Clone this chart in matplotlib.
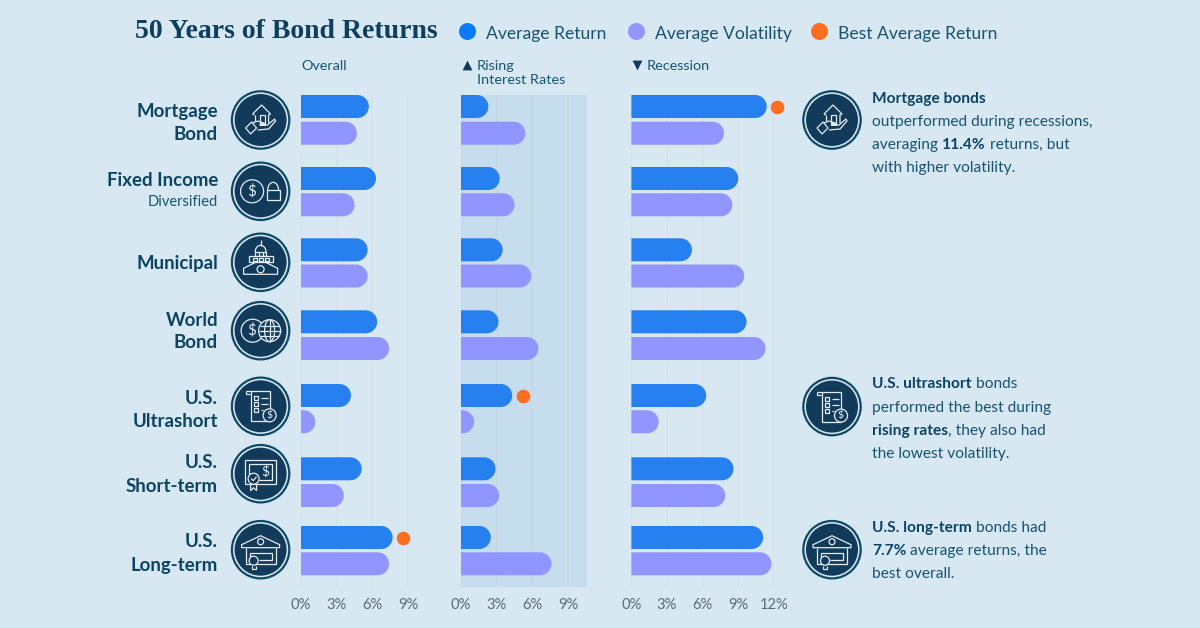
import numpy as np
import matplotlib
matplotlib.use("Agg")
import matplotlib.pyplot as plt
from matplotlib.path import Path
from matplotlib.patches import PathPatch, Circle, Polygon, Arc, Ellipse

# ---------- data ----------
categories = ["Mortgage Bond", "Fixed Income", "Municipal", "World Bond",
              "U.S. Ultrashort", "U.S. Short-term", "U.S. Long-term"]
overall_return = [5.7, 6.3, 5.6, 6.4, 4.2, 5.1, 7.7]
overall_vol = [4.7, 4.5, 5.6, 7.4, 1.2, 3.6, 7.4]
rising_return = [2.3, 3.25, 3.5, 3.15, 4.3, 2.9, 2.5]
rising_vol = [5.4, 4.5, 5.9, 6.5, 1.1, 3.2, 7.6]
recession_return = [11.4, 9.0, 5.1, 9.7, 6.3, 8.6, 11.1]
recession_vol = [7.8, 8.5, 9.5, 11.3, 2.3, 7.9, 11.8]
overall_ticks = [0, 3, 6, 9]
rising_ticks = [0, 3, 6, 9]
recession_ticks = [0, 3, 6, 9, 12]

# ---------- style ----------
BG = "#D8E8F3"; SHADE = "#C6DDEE"; BLUE = "#2680F0"; VIOLET = "#9095FF"
ORANGE = "#FF6D1F"; NAVY = "#123A5A"; RING = "#0E4A66"; INK = "#0B4463"
SOFT = "#17546F"; TICK = "#5E6A72"; LINE = "#E4EDF3"
SANS = "Lato"
W, H = 1200, 628
TOP, BOTTOM = 95, 587
BAR_H = 23
ret_top = [95, 167, 238.3, 310.3, 384, 457.3, 526]
vol_top = [121.7, 193.3, 264.5, 337, 410.3, 484, 552.3]

fig = plt.figure(figsize=(W / 100, H / 100), dpi=100, facecolor=BG)
overlay = fig.add_axes([0, 0, 1, 1], zorder=5)
overlay.set_xlim(0, W); overlay.set_ylim(H, 0); overlay.axis("off")
overlay.patch.set_alpha(0)


def round_bar(ax, value, top, color, scale):
    rx, ry = (BAR_H / 2) / scale, BAR_H / 2
    k = 0.5523
    b = top + BAR_H
    verts = [(0, top), (value - rx, top),
             (value - rx + k * rx, top), (value, top + ry - k * ry), (value, top + ry),
             (value, top + ry + k * ry), (value - rx + k * rx, b), (value - rx, b),
             (0, b), (0, top)]
    codes = [Path.MOVETO, Path.LINETO, Path.CURVE4, Path.CURVE4, Path.CURVE4,
             Path.CURVE4, Path.CURVE4, Path.CURVE4, Path.LINETO, Path.CLOSEPOLY]
    ax.add_patch(PathPatch(Path(verts, codes), fc=color, ec="none", zorder=3, clip_on=False))


def panel(x0, xmax, scale, ret, vol, ticks, shade=None, grid="#DADFE2"):
    ax = fig.add_axes([x0 / W, (H - BOTTOM) / H, xmax * scale / W, (BOTTOM - TOP) / H], zorder=2)
    ax.set_xlim(0, xmax); ax.set_ylim(BOTTOM, TOP)
    ax.set_facecolor(shade if shade else "none")
    for s in ax.spines.values():
        s.set_visible(False)
    ax.set_yticks([])
    ax.set_xticks(ticks)
    ax.set_xticklabels([f"{t}%" for t in ticks], family=SANS, fontsize=10.6, color=TICK)
    ax.tick_params(axis="x", length=0, pad=8)
    ax.grid(axis="x", color=grid, lw=1.1, zorder=1)
    ax.set_axisbelow(True)
    for r, v, rt, vt in zip(ret, vol, ret_top, vol_top):
        round_bar(ax, r, rt, BLUE, scale)
        round_bar(ax, v, vt, VIOLET, scale)
    best = int(np.argmax(ret))
    ax.scatter([ret[best] + 0.9], [ret_top[best] + BAR_H / 2], s=96, c=ORANGE, zorder=4,
               linewidths=0, clip_on=False)
    return ax


panel(301, 9, 11.9, overall_return, overall_vol, overall_ticks)
panel(461, 10.56, 11.9, rising_return, rising_vol, rising_ticks, shade=SHADE, grid="#CBD6DD")
panel(631.4, 12, 11.87, recession_return, recession_vol, recession_ticks)


# ---------- text helpers ----------
def T(x, y, s, size=12, weight="normal", color=INK, ha="left", family=SANS, **kw):
    return overlay.text(x, y + 1, s, fontsize=size, fontweight=weight, color=color, ha=ha,
                        va="center", family=family, **kw)


def rich(x, y, parts, size=11.15):
    rend = fig.canvas.get_renderer()
    for s, bold in parts:
        t = T(x, y, s, size=size, weight="bold" if bold else "normal", color=INK if bold else SOFT)
        x += t.get_window_extent(rend).width


title = T(135, 30, "50 Years of Bond Returns", size=19.8, weight="bold",
          family="Liberation Serif", color="#0E3F5C")
title_w = title.get_window_extent(fig.canvas.get_renderer()).width
title.set_fontsize(19.8 * 303 / title_w)
for dot, tx, lab, col in [(467, 486, "Average Return", "#0A7BFF"), (635.6, 655, "Average Volatility", VIOLET),
                          (819.3, 838.5, "Best Average Return", ORANGE)]:
    overlay.scatter([dot], [31], s=150, c=col, linewidths=0)
    T(tx, 32.5, lab, size=12.6, color=SOFT)

T(301, 64.5, "Overall", size=10.4, color=SOFT)
T(477, 64.5, "Rising", size=10.4, color=SOFT)
T(477, 79.5, "Interest Rates", size=10.4, color=SOFT)
T(647, 64.5, "Recession", size=10.4, color=SOFT)
overlay.scatter([467], [65], marker="^", s=50, c=NAVY, linewidths=0)
overlay.scatter([637], [65], marker="v", s=50, c=NAVY, linewidths=0)

for y, s in [(111, "Mortgage"), (134, "Bond"), (180, "Fixed Income"), (263, "Municipal"),
             (319, "World"), (342, "Bond"), (397, "U.S."), (420.5, "Ultrashort"),
             (462, "U.S."), (486, "Short-term"), (540.5, "U.S."), (564, "Long-term")]:
    T(218, y, s, size=13.4, weight="bold", ha="right")
T(218, 201, "Diversified", size=10.5, color=SOFT, ha="right")

rich(872, 98, [("Mortgage bonds", True)])
rich(872, 121, [("outperformed during recessions,", False)])
rich(872, 144, [("averaging ", False), ("11.4%", True), (" returns, but", False)])
rich(872, 167, [("with higher volatility.", False)])
rich(872, 383.5, [("U.S. ultrashort", True), (" bonds", False)])
rich(872, 407, [("performed the best during", False)])
rich(872, 430, [("rising rates", True), (", they also had", False)])
rich(872, 453, [("the lowest volatility.", False)])
rich(872, 526.7, [("U.S. long-term", True), (" bonds had", False)])
rich(872, 550, [("7.7%", True), (" average returns, the", False)])
rich(872, 573, [("best overall.", False)])

# ---------- icons ----------
LW = 0.9


def line(cx, cy, pts, close=False, fill=False):
    p = [(cx + a, cy + b) for a, b in pts]
    overlay.add_patch(Polygon(p, closed=close, fc=NAVY if fill else "none", ec=LINE, lw=LW, zorder=7))


def circ(cx, cy, x, y, r, fill=True):
    overlay.add_patch(Circle((cx + x, cy + y), r, fc=NAVY if fill else "none", ec=LINE, lw=LW, zorder=7))


def dollar(cx, cy, x, y, size):
    overlay.text(cx + x, cy + y, "$", fontsize=size, color=LINE, ha="center", va="center",
                 family=SANS, zorder=8)


def rect(cx, cy, x0, y0, x1, y1, fill=False):
    line(cx, cy, [(x0, y0), (x1, y0), (x1, y1), (x0, y1)], close=True, fill=fill)


def base(cx, cy):
    overlay.add_patch(Circle((cx, cy), 28.7, fc=BG, ec=RING, lw=1.6, zorder=6))
    overlay.add_patch(Circle((cx, cy), 26, fc=NAVY, ec="none", zorder=6))


def house(c, d):
    line(c, d, [(-6, -5), (-8, -6), (1, -15), (10, -6), (8, -5), (8, 3)])
    line(c, d, [(-6, -5), (-6, 1)])
    rect(c, d, -1, -5, 4, 3)
    line(c, d, [(-8, 3), (-3, 1), (3, 3), (5, 5), (-1, 5), (7, 5), (14, -1), (15, 1), (8, 9), (-3, 10)])
    line(c, d, [(-15, 8), (-9, 2), (-4, 8), (-10, 14)], close=True)


def lockdollar(c, d):
    circ(c, d, -8.5, 0, 11.5, fill=False)
    dollar(c, d, -8.5, 0, 11)
    rect(c, d, 6, -1, 19, 9)
    overlay.add_patch(Arc((c + 12.5, d - 1), 11, 16, theta1=180, theta2=360, ec=LINE, lw=LW, zorder=7))


def capitol(c, d):
    line(c, d, [(0, -22), (0, -16)])
    overlay.add_patch(Arc((c, d - 10), 11, 14, theta1=180, theta2=360, ec=LINE, lw=LW, zorder=7))
    rect(c, d, -5.5, -10, 5.5, -6)
    line(c, d, [(-2, -10), (-2, -6)]); line(c, d, [(2, -10), (2, -6)])
    rect(c, d, -12, -6, 12, 0)
    for x in (-8, -2, 4):
        rect(c, d, x, -4.5, x + 4, -1.5)
    line(c, d, [(-17, 12), (-17, 6), (-5, 0), (5, 0), (17, 6), (17, 12)], close=True)
    circ(c, d, 0, 7, 3.5)


def worldbond(c, d):
    circ(c, d, -8, 0, 11.5, fill=False)
    dollar(c, d, -9, 0, 11)
    circ(c, d, 9, 0, 11)
    overlay.add_patch(Ellipse((c + 9, d), 10, 22, fc="none", ec=LINE, lw=LW, zorder=8))
    for y in (-5, 0, 5):
        half = np.sqrt(121 - y * y)
        line(c, d, [(9 - half, y), (9 + half, y)])
    line(c, d, [(9, -11), (9, 11)])


def receipt(c, d):
    line(c, d, [(-15, -15), (9, -15), (9, 15), (-10, 15), (-10, -15)])
    line(c, d, [(-15, -15), (-15, -12), (-11, -12)])
    for y in (-8, -2, 4):
        rect(c, d, -7, y - 2, -3, y + 2)
    line(c, d, [(0, -8), (7, -8)]); line(c, d, [(0, -2), (7, -2)]); line(c, d, [(0, 4), (2, 4)])
    circ(c, d, 9, 9, 6.5)
    dollar(c, d, 9, 9, 7.5)


def certificate(c, d):
    rect(c, d, -16, -14, 15, 10)
    line(c, d, [(-12, 6), (-12, -10), (11, -10), (11, 6), (-2, 6)])
    dollar(c, d, 5, -2, 10)
    line(c, d, [(-10, 9), (-10, 17), (-7, 14), (-4, 17), (-4, 9)])
    circ(c, d, -7, 5, 5.5)
    line(c, d, [(-9.5, 5), (-7.5, 7), (-4, 3)])


def bank(c, d):
    line(c, d, [(-19, -5), (0, -14), (19, -5), (19, -2), (-19, -2)], close=True)
    circ(c, d, 0, -8, 3)
    line(c, d, [(-15, -2), (-15, 14), (15, 14), (15, -2)])
    line(c, d, [(-11, 10), (-11, 3), (11, 3), (11, 10), (-2, 10)])
    circ(c, d, -7, 11, 4.5)
    line(c, d, [(-9, 16), (-9, 19), (-5, 19), (-5, 16)])


icon_x = 260.6
for y, fn in zip([120, 191.3, 262.3, 330.7, 406.3, 473.7, 549.7],
                 [house, lockdollar, capitol, worldbond, receipt, certificate, bank]):
    base(icon_x, y); fn(icon_x, y)
for y, fn in [(120, house), (406.6, receipt), (549.7, bank)]:
    base(832, y); fn(832, y)

fig.savefig("out.png", dpi=100, facecolor=BG)
